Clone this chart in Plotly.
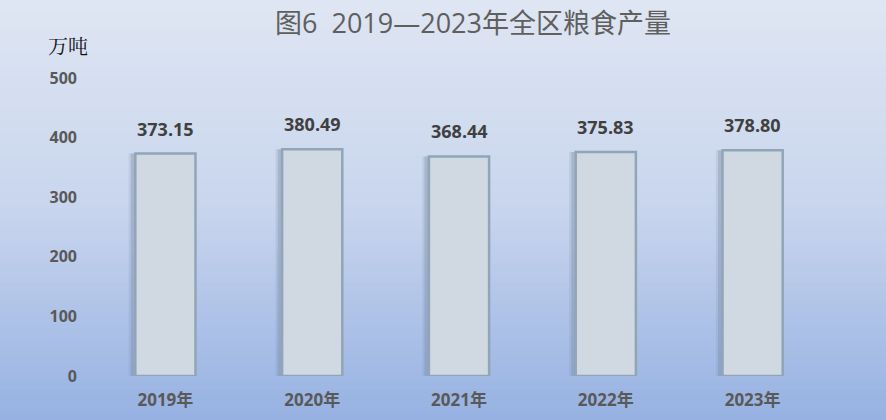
import plotly.graph_objects as go

years = ["2019年", "2020年", "2021年", "2022年", "2023年"]
values = [373.15, 380.49, 368.44, 375.83, 378.80]
value_labels = ["373.15", "380.49", "368.44", "375.83", "378.80"]
y_ticks = [0, 100, 200, 300, 400, 500]

W, H = 886, 420
mt, mb, ml, mr = 78, 44, 92, 60
plot_w = W - ml - mr
plot_h = H - mt - mb

fig = go.Figure()

# soft shadow layers (style only: same data, shifted slightly left)
fig.add_trace(go.Bar(
    x=years, y=values, width=0.43, offset=-0.25,
    marker=dict(color="rgba(110,128,155,0.16)", line=dict(width=0)),
    hoverinfo="skip", showlegend=False,
))
fig.add_trace(go.Bar(
    x=years, y=values, width=0.42, offset=-0.235,
    marker=dict(color="rgba(110,128,155,0.28)", line=dict(width=0)),
    hoverinfo="skip", showlegend=False,
))
fig.add_trace(go.Bar(
    x=years, y=values, width=0.41, offset=-0.205,
    marker=dict(color="#D0D8E1", line=dict(color="#91A5B8", width=2.5)),
    showlegend=False,
))

# background gradient strips
stops = [(0.0, (223, 230, 243)), (0.5, (200, 213, 237)), (1.0, (150, 177, 226))]
def col(t):
    for (t0, c0), (t1, c1) in zip(stops[:-1], stops[1:]):
        if t <= t1:
            f = (t - t0) / (t1 - t0)
            return "rgb(%d,%d,%d)" % tuple(round(a + (b - a) * f) for a, b in zip(c0, c1))
    return "rgb(%d,%d,%d)" % stops[-1][1]

N = 70
shapes = []
for i in range(N):
    top_px = H * i / N
    bot_px = H * (i + 1) / N
    y1 = (H - top_px - mb) / plot_h
    y0 = (H - bot_px - mb) / plot_h
    shapes.append(dict(type="rect", xref="paper", yref="paper",
                       x0=-ml / plot_w - 0.01, x1=1 + mr / plot_w + 0.01,
                       y0=y0 - 0.002, y1=y1 + 0.002,
                       fillcolor=col((i + 0.5) / N), line=dict(width=0), layer="below"))

annotations = [dict(text="万吨", xref="paper", yref="paper",
                    x=(68 - ml) / plot_w, y=1 + 33 / plot_h, xanchor="center", yanchor="middle",
                    showarrow=False,
                    font=dict(family="Noto Serif CJK SC, Noto Sans CJK SC", size=20, color="#111111"))]
for yr, v, lab in zip(years, values, value_labels):
    annotations.append(dict(x=yr, y=v, text=lab, showarrow=False, xanchor="center",
                            yanchor="middle", yshift=25,
                            font=dict(family="Open Sans, Noto Sans CJK SC", size=18,
                                      color="#404040", weight="bold")))

fig.update_layout(
    width=W, height=H,
    margin=dict(l=ml, r=mr, t=mt, b=mb, autoexpand=False),
    barmode="overlay",
    paper_bgcolor="#C8D4EC",
    plot_bgcolor="rgba(0,0,0,0)",
    shapes=shapes,
    title=dict(text="图6  2019—2023年全区粮食产量", x=473 / W, xanchor="center",
               y=1 - 24 / H, yanchor="middle",
               font=dict(family="Open Sans, Noto Sans CJK SC", size=27, color="#5F5F5F")),
    xaxis=dict(showgrid=False, showline=False, ticks="", ticklabelstandoff=12, automargin=False,
               tickfont=dict(family="Open Sans, Noto Sans CJK SC", size=17, color="#595959", weight="bold")),
    yaxis=dict(range=[0, 500], tickvals=y_ticks, showgrid=False, showline=False, zeroline=False,
               ticks="", ticklabelstandoff=14, automargin=False,
               tickfont=dict(family="Open Sans, Noto Sans CJK SC", size=16, color="#595959", weight="bold")),
    annotations=annotations,
)

fig.write_html("out.html", config={"displayModeBar": False},
               post_script="document.body.style.margin='0';")
